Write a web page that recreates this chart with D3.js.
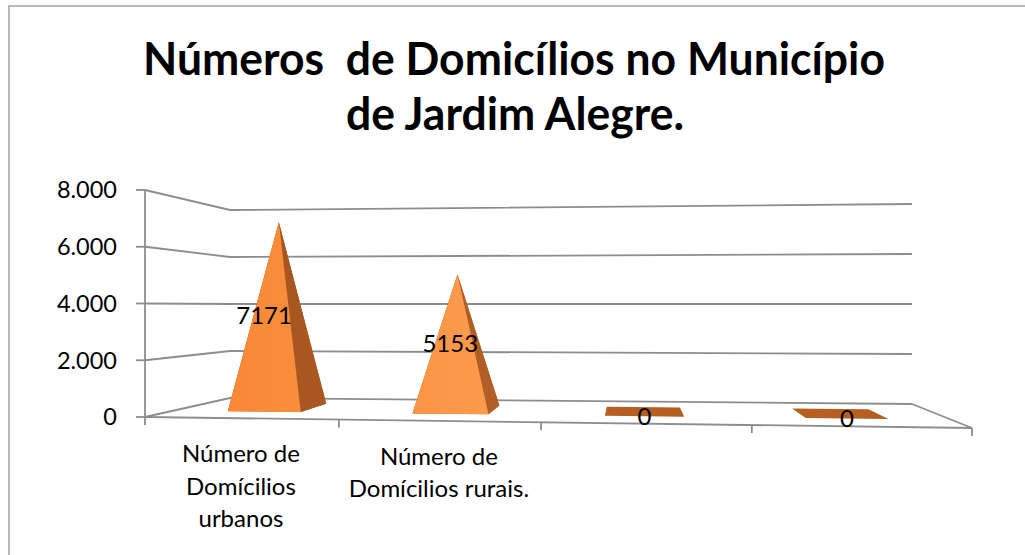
<!DOCTYPE html>
<html><head><meta charset="utf-8">
<script src="https://cdn.jsdelivr.net/npm/d3@7"></script>
<style>html,body{margin:0;padding:0;background:#fff;} svg{display:block}</style>
</head><body>
<svg id="chart" width="1025" height="555"></svg>
<script>
// ---- data ----
const categories = ["Número de Domícilios urbanos", "Número de Domícilios rurais.", "", ""];
const categoryLines = [["Número de", "Domícilios", "urbanos"], ["Número de", "Domícilios rurais."], [], []];
const values = [7171, 5153, 0, 0];
const yTicks = [0, 2000, 4000, 6000, 8000];
const titleLines = ["Números\u00a0\u00a0de Domicílios no Município", "de Jardim Alegre."];

// ---- layout (3D box projection) ----
const box = {
  FBL: [145, 417], FBR: [972, 428], FTL: [145, 190], FTR: [972, 187],
  BBL: [230, 398], BBR: [912, 404], BTL: [230, 210], BTR: [912, 204]
};
const lerp = (p, q, t) => [p[0] + (q[0] - p[0]) * t, p[1] + (q[1] - p[1]) * t];
const persp = (t, c) => t * (1 + c) / (1 + c * t);
function proj(u, v, w) {
  const a = persp(u, -0.0812), s = persp(w, 0.2);
  const bot = lerp(lerp(box.FBL, box.FBR, a), lerp(box.BBL, box.BBR, a), s);
  const top = lerp(lerp(box.FTL, box.FTR, a), lerp(box.BTL, box.BTR, a), s);
  return lerp(bot, top, v);
}

const x = d3.scaleBand().domain(categories.map((d, i) => i)).range([0, 1]);
const y = d3.scaleLinear().domain([0, 8000]).range([0, 1]);
const halfW = x.bandwidth() * 0.2;
const w0 = 0.3, w1 = 0.72, wc = (w0 + w1) / 2;
const fmt = d3.formatLocale({decimal: ",", thousands: ".", grouping: [3], currency: ["", ""]}).format(",d");

const svg = d3.select("#chart");
const FONT = "Lato, 'Open Sans', sans-serif";
const line = d3.line();

const defs = svg.append("defs");
const g1 = defs.append("linearGradient").attr("id", "frontGrad").attr("gradientUnits", "userSpaceOnUse")
  .attr("x1", 145).attr("x2", 660).attr("y1", 0).attr("y2", 0);
g1.append("stop").attr("offset", 0).attr("stop-color", "#f7822e");
g1.append("stop").attr("offset", 1).attr("stop-color", "#ffa75c");
const g2 = defs.append("linearGradient").attr("id", "sideGrad").attr("gradientUnits", "userSpaceOnUse")
  .attr("x1", 145).attr("x2", 660).attr("y1", 0).attr("y2", 0);
g2.append("stop").attr("offset", 0).attr("stop-color", "#a0501b");
g2.append("stop").attr("offset", 1).attr("stop-color", "#bb672d");

// chart border
svg.append("rect").attr("x", 9).attr("y", 6).attr("width", 1040).attr("height", 570)
  .attr("fill", "none").attr("stroke", "#a3a3a3").attr("stroke-width", 1.5);

// gridlines (left wall + back wall)
const GRID = "#8d8d8d";
svg.append("g").selectAll("path").data(yTicks).join("path")
  .attr("d", t => line([proj(0, y(t), 0), proj(0, y(t), 1), proj(1, y(t), 1)]))
  .attr("fill", "none").attr("stroke", GRID).attr("stroke-width", 1.8);

// floor front & right edges
svg.append("path").attr("d", line([proj(0, 0, 0), proj(1, 0, 0), proj(1, 0, 1)]))
  .attr("fill", "none").attr("stroke", GRID).attr("stroke-width", 1.8);

// vertical axis
const axTop = proj(0, 1, 0), axBot = proj(0, 0, 0);
svg.append("line").attr("x1", axTop[0]).attr("y1", axTop[1]).attr("x2", axBot[0]).attr("y2", axBot[1] + 8)
  .attr("stroke", GRID).attr("stroke-width", 1.8);

// y ticks + labels
const yg = svg.append("g");
yTicks.forEach(t => {
  const p = proj(0, y(t), 0);
  yg.append("line").attr("x1", p[0] - 9).attr("x2", p[0]).attr("y1", p[1]).attr("y2", p[1])
    .attr("stroke", GRID).attr("stroke-width", 1.8);
  yg.append("text").attr("x", p[0] - 28).attr("y", p[1]).attr("dy", "0.36em")
    .attr("text-anchor", "end").attr("font-family", FONT).attr("font-size", 23.5).attr("fill", "#000")
    .text(fmt(t));
});

// category ticks
const catEdges = [0].concat(x.domain().map(i => x(i) + x.bandwidth()));
catEdges.slice(1).forEach(u => {
  const p = proj(u, 0, 0);
  svg.append("line").attr("x1", p[0]).attr("x2", p[0]).attr("y1", p[1]).attr("y2", p[1] + 8)
    .attr("stroke", GRID).attr("stroke-width", 1.8);
});

// category labels
categoryLines.forEach((lines, i) => {
  const p = proj(x(i) + x.bandwidth() / 2, 0, 0);
  lines.forEach((ln, j) => {
    svg.append("text").attr("x", p[0]).attr("y", p[1] + 44 + j * 32.5)
      .attr("text-anchor", "middle").attr("font-family", FONT).attr("font-size", 24).attr("fill", "#000")
      .text(ln);
  });
});

// pyramids
const pg = svg.append("g");
values.forEach((val, i) => {
  const uc = x(i) + x.bandwidth() / 2, u0 = uc - halfW, u1 = uc + halfW;
  const FL = proj(u0, 0, w0), FR = proj(u1, 0, w0), BR = proj(u1, 0, w1), BL = proj(u0, 0, w1);
  const A = proj(uc, y(val), wc);
  const poly = pts => line(pts) + "Z";
  pg.append("path").attr("d", poly([FL, FR, BR, BL])).attr("fill", "#b75e22");
  if (val > 0) {
    pg.append("path").attr("d", poly([BL, BR, A])).attr("fill", "url(#sideGrad)");
    pg.append("path").attr("d", poly([FL, BL, A])).attr("fill", "url(#sideGrad)");
    pg.append("path").attr("d", poly([FR, BR, A])).attr("fill", "url(#sideGrad)");
    pg.append("path").attr("d", poly([FL, FR, A])).attr("fill", "url(#frontGrad)");
  }
});

// data labels
values.forEach((val, i) => {
  const uc = x(i) + x.bandwidth() / 2;
  const p = proj(uc, y(val) / 2, w0);
  svg.append("text").attr("x", p[0]).attr("y", p[1]).attr("dy", "0.36em")
    .attr("text-anchor", "middle").attr("font-family", FONT).attr("font-size", 24).attr("fill", "#000")
    .text(val);
});

// title: fitted to the reference width
const TFS = 45;
const tg = svg.append("g").attr("font-family", FONT).attr("font-weight", 700).attr("fill", "#000")
  .attr("text-anchor", "middle");
const t1 = tg.append("text").attr("font-size", TFS).text(titleLines[0]);
const sx = 742 / t1.node().getComputedTextLength();
t1.attr("transform", `translate(514,75) scale(${sx},1)`);
tg.append("text").attr("font-size", TFS).attr("transform", `translate(515,130) scale(${sx},1)`).text(titleLines[1]);
</script>
</body></html>
